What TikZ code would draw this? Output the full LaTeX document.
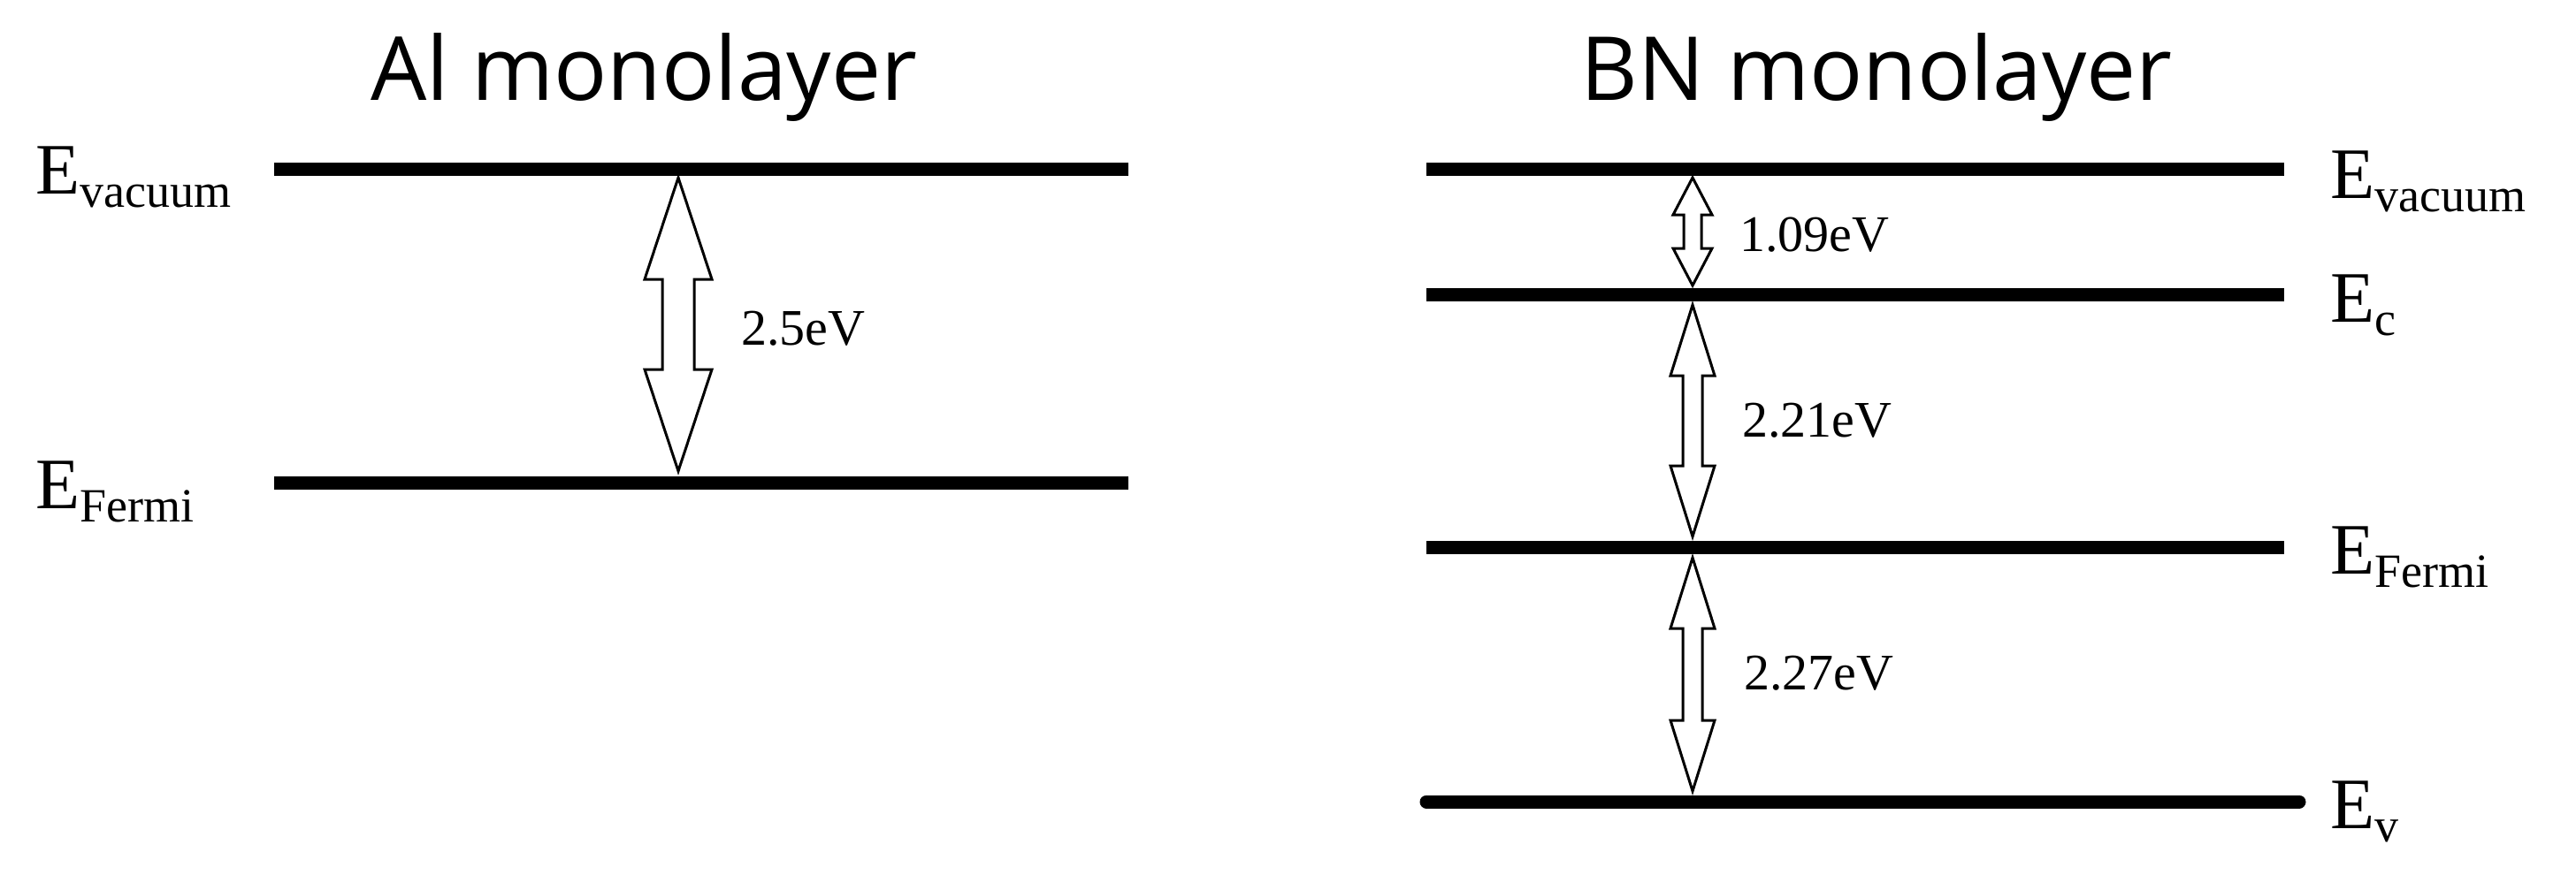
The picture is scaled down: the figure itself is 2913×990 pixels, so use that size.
\documentclass[tikz,border=0pt]{standalone}
\usepackage{fontspec}
\setmainfont{Liberation Serif}
\newfontfamily\titlefont{Open Sans}
\newcommand{\dblarr}[6]{% x, ytop, ybot, half head width, half shaft width, head length
 \draw[line width=3pt,fill=white,line join=miter]
  (#1,#2) -- (#1+#4,#2+#6) -- (#1+#5,#2+#6) -- (#1+#5,#3-#6) -- (#1+#4,#3-#6)
  -- (#1,#3) -- (#1-#4,#3-#6) -- (#1-#5,#3-#6) -- (#1-#5,#2+#6) -- (#1-#4,#2+#6) -- cycle;}
\begin{document}
\begin{tikzpicture}[x=1pt,y=-1pt,
  level/.style={line width=15pt},
  elab/.style={font=\fontsize{82}{90}\selectfont,anchor=west,inner sep=0},
  vlab/.style={font=\fontsize{58}{62}\selectfont,anchor=west,inner sep=0},
  ttl/.style={font=\titlefont\fontsize{100}{110}\selectfont,inner sep=0}]
\useasboundingbox (0,0) rectangle (2913,990);
\node[ttl] (t1) at (728,88) {Al monolayer};
\node[ttl] (t2) at (2122,88) {BN monolayer};
% left
\draw[level] (310,191) -- (1276,191);
\draw[level] (310,546) -- (1276,546);
\dblarr{767}{201}{533}{38}{18}{115}
\node[vlab] (l1) at (838,372) {2.5eV};
\node[elab] (a1) at (40,200) {E\raisebox{-0.4ex}{\fontsize{54}{54}\selectfont vacuum}};
\node[elab] (a2) at (40,556) {E\raisebox{-0.4ex}{\fontsize{54}{54}\selectfont Fermi}};
% right
\draw[level] (1613,191) -- (2583,191);
\draw[level] (1613,333) -- (2583,333);
\draw[level] (1613,619) -- (2583,619);
\draw[level,line cap=round] (1613,907) -- (2600,907);
\dblarr{1914}{201}{323}{22}{10}{42}
\dblarr{1914}{345}{607}{25}{11}{80}
\dblarr{1914}{631}{895}{25}{11}{80}
\node[vlab] (l2) at (1967,266) {1.09eV};
\node[vlab] (l3) at (1970,476) {2.21eV};
\node[vlab] (l4) at (1972,762) {2.27eV};
\node[elab] (b1) at (2635,205) {E\raisebox{-0.4ex}{\fontsize{54}{54}\selectfont vacuum}};
\node[elab] (b2) at (2635,345) {E\raisebox{-0.4ex}{\fontsize{54}{54}\selectfont c}};
\node[elab] (b3) at (2635,630) {E\raisebox{-0.4ex}{\fontsize{54}{54}\selectfont Fermi}};
\node[elab] (b4) at (2635,918) {E\raisebox{-0.4ex}{\fontsize{54}{54}\selectfont v}};
\end{tikzpicture}
\end{document}
